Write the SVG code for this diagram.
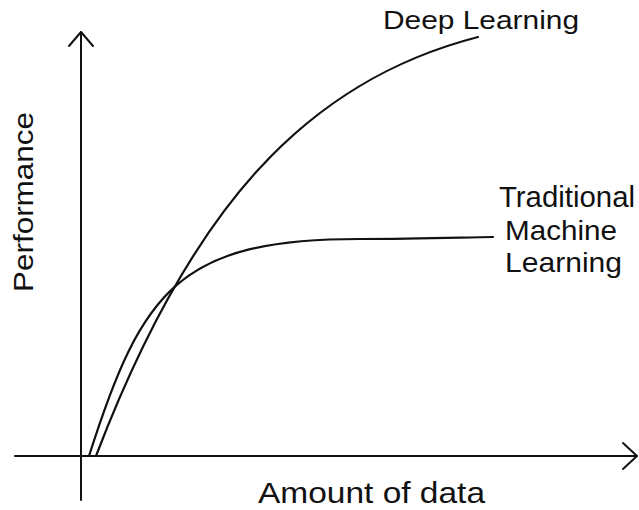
<svg xmlns="http://www.w3.org/2000/svg" width="639" height="510" viewBox="0 0 639 510">
<style>
.ax{fill:none;stroke:#111;stroke-width:2;stroke-linecap:round;stroke-linejoin:round}
.cv{fill:none;stroke:#111;stroke-width:2.2;stroke-linecap:round}
.t{font-family:"Liberation Sans",Arial,sans-serif;fill:#111}
</style>
<rect width="639" height="510" fill="#fff"/>
<g id="axes">
<line class="ax" x1="81" y1="32" x2="81" y2="500"/>
<polyline class="ax" points="69,46 81,32 93,46"/>
<line class="ax" x1="15" y1="456" x2="637" y2="456"/>
<polyline class="ax" points="623,443 637,456 623,469"/>
</g>
<g id="connectors">
<path id="deep" class="cv" d="M96,456 C191.7,205.2 307.5,81 478,37"/>
<path id="traditional" class="cv" d="M89,456 C142,289 180,239 360,239 C420,239 460,237.5 493,237"/>
</g>
<g id="labels">
<text class="t" x="383" y="29" font-size="25" textLength="196" lengthAdjust="spacingAndGlyphs">Deep Learning</text>
<text class="t" x="499" y="207" font-size="29" textLength="136" lengthAdjust="spacingAndGlyphs">Traditional</text>
<text class="t" x="505" y="240" font-size="28" textLength="112" lengthAdjust="spacingAndGlyphs">Machine</text>
<text class="t" x="505" y="272" font-size="28" textLength="117" lengthAdjust="spacingAndGlyphs">Learning</text>
<text class="t" x="258" y="503" font-size="29" textLength="227" lengthAdjust="spacingAndGlyphs">Amount of data</text>
<text class="t" transform="translate(33,292) rotate(-90)" font-size="28" textLength="180" lengthAdjust="spacingAndGlyphs">Performance</text>
</g>
</svg>
